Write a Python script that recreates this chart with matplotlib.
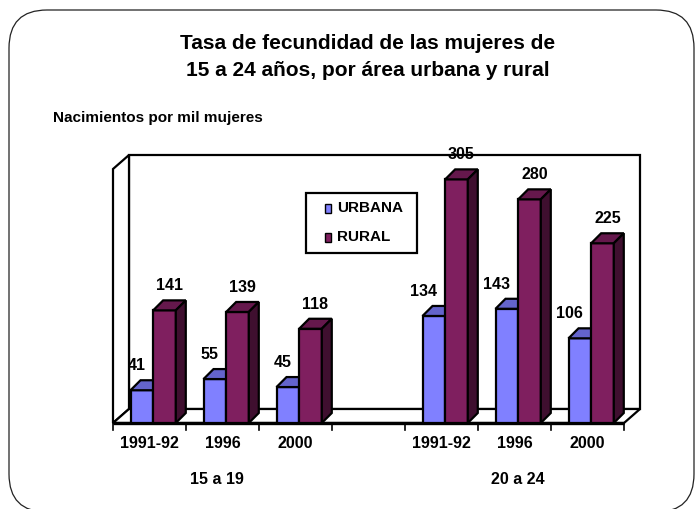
import matplotlib
matplotlib.use("Agg")
import matplotlib.pyplot as plt
from matplotlib.patches import Polygon, Rectangle, FancyBboxPatch

# ---- data ----
categories = ["1991-92", "1996", "2000", "", "1991-92", "1996", "2000"]
groups = ["15 a 19", "20 a 24"]
urbana = [41, 55, 45, None, 134, 143, 106]
rural = [141, 139, 118, None, 305, 280, 225]
series_names = ["URBANA", "RURAL"]

title = "Tasa de fecundidad de las mujeres de\n15 a 24 años, por área urbana y rural"
ylabel = "Nacimientos por mil mujeres"

# ---- styles ----
FONT = "Liberation Sans"
U_FRONT, U_TOP, U_SIDE = "#8080FF", "#6464CC", "#4A4A99"
R_FRONT, R_TOP, R_SIDE = "#7F1F5F", "#65184C", "#3F0F2F"
EDGE_LW = 1.6
LBL = 11.5

W, H = 696, 509
fig = plt.figure(figsize=(W / 100, H / 100), dpi=100)

# axes maps the front plane of the 3D box
left_px, right_px, base_px, top_px = 113, 624, 423, 169
ymax = 318
ax = fig.add_axes([left_px / W, (H - base_px) / H, (right_px - left_px) / W,
                   (base_px - top_px) / H])
n = len(categories)
ax.set_xlim(-0.5, n - 0.5)
ax.set_ylim(0, ymax)
ax.axis("off")

px_x = n / (right_px - left_px)      # data units per px (x)
px_y = ymax / (base_px - top_px)     # data units per px (y)
wdx, wdy = 16 * px_x, 14 * px_y      # wall depth
bdx, bdy = 10 * px_x, 10 * px_y      # bar depth


def poly(pts, fc, lw=EDGE_LW, z=1):
    ax.add_patch(Polygon(pts, closed=True, facecolor=fc, edgecolor="black",
                         lw=lw, clip_on=False, zorder=z, joinstyle="miter"))


x0, x1 = -0.5, n - 0.5
# back wall
poly([(x0 + wdx, wdy), (x1 + wdx, wdy), (x1 + wdx, ymax + wdy), (x0 + wdx, ymax + wdy)], "white", z=1)
# left wall
poly([(x0, 0), (x0 + wdx, wdy), (x0 + wdx, ymax + wdy), (x0, ymax)], "white", z=1)
# floor
poly([(x0, 0), (x1, 0), (x1 + wdx, wdy), (x0 + wdx, wdy)], "white", z=1)
ax.plot([x0, x1], [0, 0], color="black", lw=2.4, clip_on=False, zorder=1.5,
        solid_capstyle="butt")

# category ticks
tick_len = 7 * px_y
for b in range(n + 1):
    xb = b - 0.5
    ax.plot([xb, xb], [0, -tick_len], color="black", lw=1.2, clip_on=False, zorder=1.5)

# bars
U_OFF = (-0.26, 0.05)
R_OFF = (0.05, 0.36)


def bar3d(xa, xb, v, front, top, side, z):
    poly([(xa, 0), (xb, 0), (xb, v), (xa, v)], front, z=z)
    poly([(xa, v), (xb, v), (xb + bdx, v + bdy), (xa + bdx, v + bdy)], top, z=z)
    poly([(xb, 0), (xb + bdx, bdy), (xb + bdx, v + bdy), (xb, v)], side, z=z)


for i in range(n):
    z = 2 + i * 0.1
    if urbana[i] is not None:
        xa, xb = i + U_OFF[0], i + U_OFF[1]
        bar3d(xa, xb, urbana[i], U_FRONT, U_TOP, U_SIDE, z)
        ax.annotate(str(urbana[i]), ((xa + xb) / 2, urbana[i] + bdy),
                    xytext=(2.5, 5), textcoords="offset points", ha="right", va="bottom",
                    fontsize=LBL, fontweight="bold", family=FONT, annotation_clip=False, zorder=5)
    if rural[i] is not None:
        xa, xb = i + R_OFF[0], i + R_OFF[1]
        bar3d(xa, xb, rural[i], R_FRONT, R_TOP, R_SIDE, z + 0.05)
        ax.annotate(str(rural[i]), ((xa + xb) / 2 + bdx / 2, rural[i] + bdy),
                    xytext=(0, 5), textcoords="offset points", ha="center", va="bottom",
                    fontsize=LBL, fontweight="bold", family=FONT, annotation_clip=False, zorder=5)

# category labels
for i, c in enumerate(categories):
    ax.text(i, -20 * px_y, c, ha="center", va="center", fontsize=LBL,
            fontweight="bold", family=FONT)
for g, gx in zip(groups, [0.92, 5.05]):
    ax.text(gx, -56 * px_y, g, ha="center", va="center", fontsize=LBL,
            fontweight="bold", family=FONT)

# legend (drawn by hand in figure pixels)
def fx(px):
    return px / W


def fy(py):
    return 1 - py / H


fig.patches.append(Rectangle((fx(306), fy(253)), (417 - 306) / W, (253 - 193) / H,
                             transform=fig.transFigure, facecolor="white",
                             edgecolor="black", lw=1.6, zorder=10))
for name, col, yc in zip(series_names, [U_FRONT, R_FRONT], [208, 237]):
    fig.patches.append(Rectangle((fx(325), fy(yc + 4.5)), 6 / W, 9 / H,
                                 transform=fig.transFigure, facecolor=col,
                                 edgecolor="black", lw=1.0, zorder=11))
    fig.text(fx(337), fy(yc), name, ha="left", va="center", fontsize=11,
             fontweight="bold", family=FONT, zorder=12)

# title & unit label
fig.text(368 / W, 1 - 57 / H, title, ha="center", va="center", fontsize=15,
         fontweight="bold", family=FONT, linespacing=1.5)
fig.text(53 / W, 1 - 118 / H, ylabel, ha="left", va="center", fontsize=11,
         fontweight="bold", family=FONT)

# rounded outer frame
frame = FancyBboxPatch((9 / 100, -3 / 100), (694 - 9) / 100, (H - 10 + 3) / 100,
                       boxstyle="round,pad=0,rounding_size=0.38",
                       transform=fig.dpi_scale_trans, facecolor="none",
                       edgecolor="#222222", lw=0.9)
fig.patches.append(frame)

fig.savefig("out.png", dpi=100)
